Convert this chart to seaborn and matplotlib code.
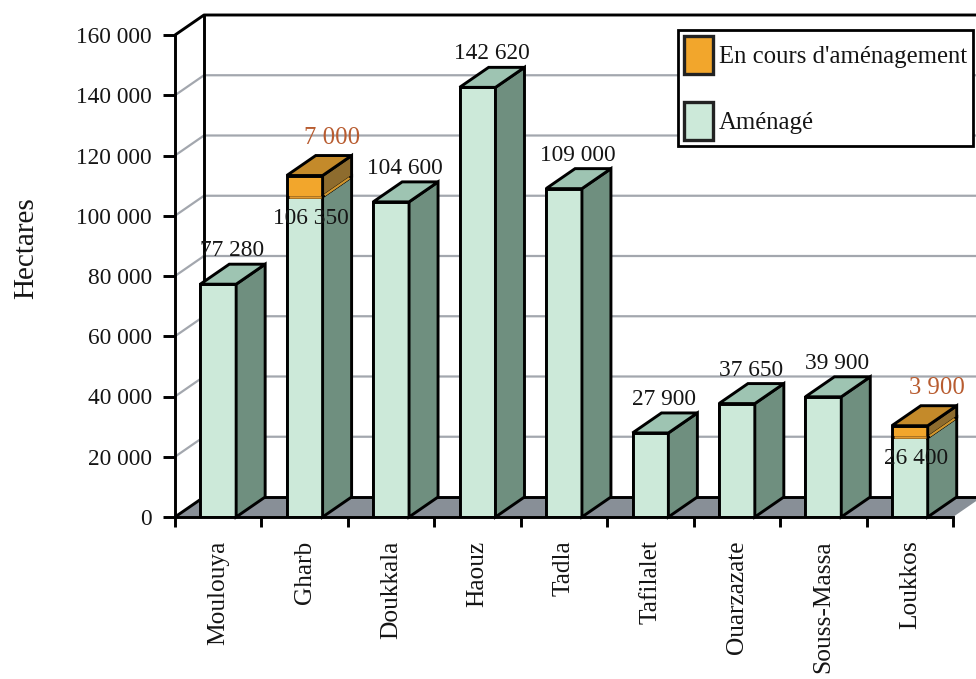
import matplotlib
matplotlib.use("Agg")
import matplotlib.pyplot as plt
from matplotlib.patches import Polygon, Patch
from matplotlib.ticker import FixedLocator
import numpy as np
import pandas as pd
import seaborn as sns

# ---------------- data ----------------
regions = ["Moulouya", "Gharb", "Doukkala", "Haouz", "Tadla",
           "Tafilalet", "Ouarzazate", "Souss-Massa", "Loukkos"]
amenage = [77280, 106350, 104600, 142620, 109000, 27900, 37650, 39900, 26400]
en_cours = [0, 7000, 0, 0, 0, 0, 0, 0, 3900]
y_ticks = [0, 20000, 40000, 60000, 80000, 100000, 120000, 140000, 160000]
legend_labels = ["En cours d'aménagement", "Aménagé"]
y_label = "Hectares"

df = pd.DataFrame({"region": regions, "amenage": amenage, "en_cours": en_cours})
df["total"] = df["amenage"] + df["en_cours"]

# ---------------- style ----------------
sns.set_theme(style="white")
plt.rcParams["font.family"] = ["Liberation Serif", "DejaVu Serif"]

GREEN_FRONT = "#cce9d9"
GREEN_SIDE = "#6f8f7f"
GREEN_TOP = "#9ec4b2"
ORANGE_FRONT = "#f2a62c"
ORANGE_SIDE = "#8e6c2e"
ORANGE_TOP = "#c48a2a"
FLOOR = "#888f97"
GRID = "#a3a7ae"
ORANGE_TXT = "#b85c30"
TXT = "#151515"
EDGE_LW = 2.1

W, H, DPI = 976, 679, 100
fig = plt.figure(figsize=(W / DPI, H / DPI), dpi=DPI)
ax_l, ax_b, ax_w, ax_h = 175, 162, 778, 482
ax = fig.add_axes([ax_l / W, ax_b / H, ax_w / W, ax_h / H])

n = len(regions)
ymax = y_ticks[-1]
ax.set_xlim(-0.5, n - 0.5)
ax.set_ylim(0, ymax)

# 3D depth in pixels -> data units
DX_PX, DY_PX = 29, 20
dx = DX_PX * n / ax_w
dy = DY_PX * ymax / ax_h

# ---------------- back wall, grid, floor ----------------
for v in y_ticks[1:-1]:
    ax.plot([-0.5, -0.5 + dx, n - 0.5 + dx], [v, v + dy, v + dy],
            color=GRID, lw=1.6, zorder=0.2, clip_on=False, solid_capstyle="butt")
floor = Polygon([(-0.5, 0), (n - 0.5, 0), (n - 0.5 + dx, dy), (-0.5 + dx, dy)],
                closed=True, facecolor=FLOOR, edgecolor="none", zorder=0.4, clip_on=False)
ax.add_patch(floor)
blk = dict(color="black", lw=EDGE_LW, zorder=0.5, clip_on=False, solid_capstyle="butt")
ax.plot([-0.5 + dx, n - 0.5 + dx], [dy, dy], **blk)                  # floor back edge
ax.plot([-0.5, -0.5 + dx], [0, dy], **blk)                            # floor left diagonal
ax.plot([-0.5 + dx, -0.5 + dx], [dy, ymax + dy], **blk)               # back wall left
ax.plot([-0.5, -0.5 + dx, n - 0.5 + dx], [ymax, ymax + dy, ymax + dy], **blk)  # top

# ---------------- bars (front faces) ----------------
bw = 0.415
sns.barplot(data=df, x="region", y="total", color=ORANGE_FRONT, saturation=1,
            width=bw, edgecolor="black", linewidth=EDGE_LW, errorbar=None,
            zorder=1, ax=ax)
n_orange = len(ax.patches)
sns.barplot(data=df, x="region", y="amenage", color=GREEN_FRONT, saturation=1,
            width=bw, edgecolor="black", linewidth=EDGE_LW, errorbar=None,
            zorder=1.1, ax=ax)
green_bars = ax.patches[n_orange:]

def face(pts, fc, z):
    ax.add_patch(Polygon(pts, closed=True, facecolor=fc, edgecolor="black",
                         lw=EDGE_LW, joinstyle="miter", zorder=z, clip_on=False))

for bar, g, e in zip(green_bars, df["amenage"], df["en_cours"]):
    x0 = bar.get_x()
    x1 = x0 + bar.get_width()
    t = g + e
    face([(x1, 0), (x1 + dx, dy), (x1 + dx, g + dy), (x1, g)], GREEN_SIDE, 1.2)
    if e > 0:
        face([(x1, g), (x1 + dx, g + dy), (x1 + dx, t + dy), (x1, t)], ORANGE_SIDE, 1.3)
        face([(x0, t), (x1, t), (x1 + dx, t + dy), (x0 + dx, t + dy)], ORANGE_TOP, 1.3)
        inset = 2.0 * n / ax_w
        ax.plot([x0 + inset, x1 - inset], [g, g], color="#e29a30", lw=1.8,
                zorder=1.4, solid_capstyle="butt")
        ax.plot([x1 + inset, x1 + dx - inset], [g + inset * dy / dx, g + dy - inset * dy / dx],
                color="#d0962e", lw=1.6, zorder=1.4, solid_capstyle="butt", clip_on=False)
    else:
        face([(x0, g), (x1, g), (x1 + dx, g + dy), (x0 + dx, g + dy)], GREEN_TOP, 1.2)

# ---------------- value labels ----------------
lab_fs = 16.8
def fmt(v):
    return f"{v:,}".replace(",", " ")

for bar, g, e in zip(green_bars, df["amenage"], df["en_cours"]):
    cx = bar.get_x() + bar.get_width() / 2
    if e > 0:
        ax.annotate(fmt(g), xy=(cx, g), xytext=(6, -11), textcoords="offset pixels",
                    ha="center", va="top", fontsize=lab_fs, color=TXT, zorder=5)
        ax.annotate(fmt(e), xy=(cx, g + e), xytext=(27, DY_PX + 7),
                    textcoords="offset pixels", ha="center", va="bottom",
                    fontsize=lab_fs + 1, color=ORANGE_TXT, zorder=5, annotation_clip=False)
    else:
        ax.annotate(fmt(g), xy=(cx, g), xytext=(14, DY_PX + 3),
                    textcoords="offset pixels", ha="center", va="bottom",
                    fontsize=lab_fs, color=TXT, zorder=5, annotation_clip=False)

# ---------------- axes ----------------
for s in ["top", "right"]:
    ax.spines[s].set_visible(False)
for s in ["left", "bottom"]:
    ax.spines[s].set_color("black")
    ax.spines[s].set_linewidth(EDGE_LW)
    ax.spines[s].set_zorder(2.5)

ax.set_yticks(y_ticks)
ax.set_yticklabels([fmt(v) for v in y_ticks])
ax.tick_params(axis="y", left=True, direction="out", length=8.6, width=EDGE_LW,
               color="black", pad=8, labelsize=16.8, labelcolor=TXT)

ax.set_xticks(range(n))
ax.set_xticklabels(regions, rotation=90, ha="center", va="top")
ax.xaxis.set_minor_locator(FixedLocator(np.arange(-0.5, n, 1.0)))
ax.tick_params(axis="x", which="major", bottom=True, length=0, pad=17,
               labelsize=18.3, labelcolor=TXT)
ax.tick_params(axis="x", which="minor", bottom=True, direction="out", length=7,
               width=EDGE_LW, color="black")
ax.set_xlabel("")
ax.set_ylabel("")
ax.grid(False)

fig.text(26 / W, 1 - 248 / H, y_label, rotation=90, ha="center", va="center",
         fontsize=21, color=TXT)

# ---------------- legend ----------------
handles = [Patch(facecolor=ORANGE_FRONT, edgecolor="#222222", lw=2.4),
           Patch(facecolor=GREEN_FRONT, edgecolor="#222222", lw=2.4)]
leg = ax.legend(handles, legend_labels, loc="upper left",
                bbox_to_anchor=(678 / W, 1 - 30 / H), bbox_transform=fig.transFigure,
                frameon=True, fancybox=False, fontsize=17.8, handlelength=1.15,
                handleheight=2.0, handletextpad=0.25, labelspacing=1.12,
                borderpad=0.25, borderaxespad=0)
leg.get_frame().set_edgecolor("black")
leg.get_frame().set_linewidth(2.0)
leg.get_frame().set_facecolor("white")
leg.get_frame().set_alpha(1)
leg.set_zorder(10)
for t in leg.get_texts():
    t.set_color(TXT)

fig.savefig("out.png", dpi=DPI)
